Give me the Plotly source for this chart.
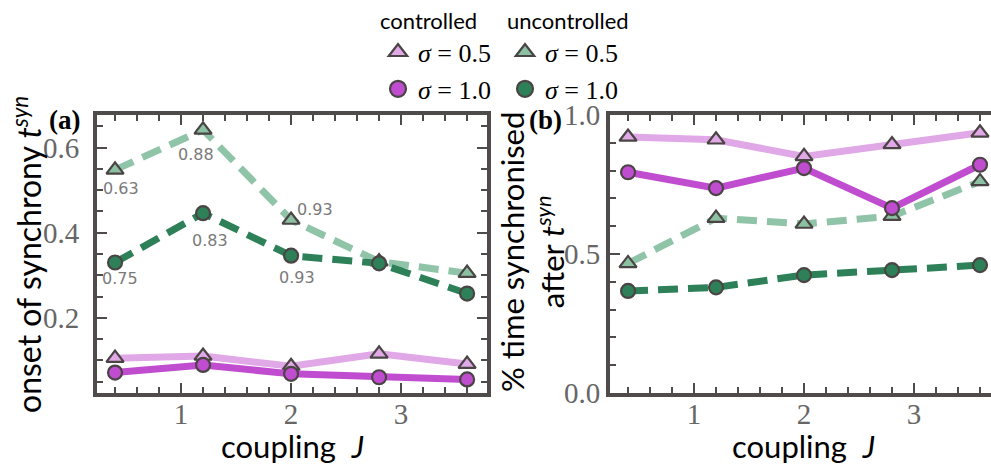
import plotly.graph_objects as go

# ---------------- data ----------------
coupling_J = [0.4, 1.2, 2.0, 2.8, 3.6]

onset_ctrl_s05 = [0.105, 0.110, 0.086, 0.115, 0.091]
onset_ctrl_s10 = [0.071, 0.089, 0.068, 0.060, 0.055]
onset_unc_s05 = [0.548, 0.642, 0.430, 0.332, 0.305]
onset_unc_s10 = [0.330, 0.446, 0.346, 0.328, 0.257]

sync_ctrl_s05 = [0.921, 0.911, 0.851, 0.894, 0.936]
sync_ctrl_s10 = [0.794, 0.737, 0.809, 0.665, 0.821]
sync_unc_s05 = [0.466, 0.629, 0.608, 0.636, 0.761]
sync_unc_s10 = [0.367, 0.380, 0.424, 0.442, 0.460]

labels_unc_s05 = ["0.63", "0.88", "0.93"]
labels_unc_s10 = ["0.75", "0.83", "0.93"]

x_ticks = [1, 2, 3]
y_ticks_a = [0.2, 0.4, 0.6]
y_ticks_b = [0.0, 0.5, 1.0]
y_ticktext_b = ["0.0", "0.5", "1.0"]

# ---------------- style ----------------
W, H = 991, 467
LIGHT_PURPLE = "#e0a8e7"
PURPLE = "#c04cd0"
LIGHT_GREEN = "#8fc4a8"
DARK_GREEN = "#2e8058"
EDGE = "#4a4444"
FRAME = "#504b4b"
SANS = "Lato, DejaVu Sans, sans-serif"
SERIF = "Liberation Serif, DejaVu Serif, serif"
TICKC = "#666666"

series = [
    ("uncontrolled σ=0.5", LIGHT_GREEN, "20px,10px", "triangle-up", "#8cc0a2", onset_unc_s05, sync_unc_s05, "legend2", "<i>σ</i> = 0.5"),
    ("uncontrolled σ=1.0", DARK_GREEN, "20px,10px", "circle", DARK_GREEN, onset_unc_s10, sync_unc_s10, "legend2", "<i>σ</i> = 1.0"),
    ("controlled σ=0.5", LIGHT_PURPLE, "solid", "triangle-up", LIGHT_PURPLE, onset_ctrl_s05, sync_ctrl_s05, "legend", "<i>σ</i> = 0.5"),
    ("controlled σ=1.0", PURPLE, "solid", "circle", PURPLE, onset_ctrl_s10, sync_ctrl_s10, "legend", "<i>σ</i> = 1.0"),
]

fig = go.Figure()

for name, col, dash, sym, fill, onset, sync, leg, lname in series:
    msize = 14 if sym == "circle" else 15
    for xa, ya, vals in (("x", "y", onset), ("x2", "y2", sync)):
        fig.add_trace(go.Scatter(
            x=coupling_J, y=vals, xaxis=xa, yaxis=ya, mode="lines+markers",
            line=dict(color=col, width=7, dash=dash),
            marker=dict(symbol=sym, size=msize, color=fill, line=dict(color=EDGE, width=2.2)),
            showlegend=False, name=name, cliponaxis=False,
        ))

# legend-only traces
legend_order = [series[2], series[3], series[0], series[1]]
for name, col, dash, sym, fill, onset, sync, leg, lname in legend_order:
    fig.add_trace(go.Scatter(
        x=[None], y=[None], mode="markers", name=lname, legend=leg,
        marker=dict(symbol=sym, size=16, color=fill, line=dict(color=EDGE, width=2.2)),
        showlegend=True,
    ))

# value annotations (panel a)
ann = []
offs_s05 = [(6, -19), (-7, -25), (24, 10)]
offs_s10 = [(5, -16), (7, -27), (6, -22)]
for labels, vals, offs in ((labels_unc_s05, onset_unc_s05, offs_s05), (labels_unc_s10, onset_unc_s10, offs_s10)):
    for i, t in enumerate(labels):
        ann.append(dict(x=coupling_J[i], y=vals[i], xref="x", yref="y", text=t, showarrow=False,
                        xshift=offs[i][0], yshift=offs[i][1], xanchor="center", yanchor="middle",
                        font=dict(family="DejaVu Sans, sans-serif", size=16, color="#7a7a7a")))

def px_x(p):
    return p / W

def px_y(p):
    return 1 - p / H

def paper_text(x, y, text, font, angle=0):
    return dict(x=px_x(x), y=px_y(y), xref="paper", yref="paper", text=text, showarrow=False,
                xanchor="center", yanchor="middle", textangle=angle, font=font)

ann += [
    paper_text(27, 255, "onset of synchrony <i>t</i><sup><i>syn</i></sup>", dict(family=SANS, size=32, color="black"), -90),
    paper_text(532, 252, "% time synchronised<br>after <i>t</i><sup><i>syn</i></sup>", dict(family=SANS, size=31, color="black"), -90),
    paper_text(292, 446, "coupling  <i>J</i>", dict(family=SANS, size=31, color="black")),
    paper_text(803, 446, "coupling  <i>J</i>", dict(family=SANS, size=31, color="black")),
    paper_text(64, 120, "<b>(a)</b>", dict(family=SERIF, size=27, color="black")),
    paper_text(545, 120, "<b>(b)</b>", dict(family=SERIF, size=27, color="black")),
]

common_axis = dict(
    showline=True, linecolor=FRAME, linewidth=4, showgrid=False, zeroline=False,
    ticks="inside", ticklen=10, tickwidth=2, tickcolor=FRAME, automargin=False,
    tickfont=dict(family=SERIF, size=29, color=TICKC),
)

fig.update_layout(
    width=W, height=H, margin=dict(l=0, r=0, t=0, b=0, autoexpand=False),
    paper_bgcolor="white", plot_bgcolor="white",
    xaxis=dict(domain=[px_x(97), px_x(487)], range=[0.236, 3.781], anchor="y",
               tickvals=x_ticks, mirror="allticks",
               minor=dict(dtick=0.2, tick0=0, ticks="inside", ticklen=6, tickwidth=2, tickcolor=FRAME),
               ticklabelstandoff=-8, **common_axis),
    yaxis=dict(domain=[px_y(393), px_y(115)], range=[0.023, 0.677], anchor="x",
               tickvals=y_ticks_a, mirror="allticks",
               minor=dict(dtick=0.05, tick0=0, ticks="inside", ticklen=6, tickwidth=2, tickcolor=FRAME),
               ticklabelstandoff=8, **common_axis),
    xaxis2=dict(domain=[px_x(610), 1.0], range=[0.236, 3.700], anchor="y2",
                tickvals=x_ticks, mirror="allticks",
                minor=dict(dtick=0.2, tick0=0, ticks="inside", ticklen=6, tickwidth=2, tickcolor=FRAME),
                ticklabelstandoff=-8, **common_axis),
    yaxis2=dict(domain=[px_y(393), px_y(115)], range=[0.0, 1.0], anchor="x2",
                tickvals=y_ticks_b, ticktext=y_ticktext_b, mirror=False,
                minor=dict(dtick=0.1, tick0=0, ticks="inside", ticklen=6, tickwidth=2, tickcolor=FRAME),
                ticklabelstandoff=0, **common_axis),
    legend=dict(x=px_x(378), y=1.0, xanchor="left", yanchor="top", orientation="v",
                bgcolor="rgba(0,0,0,0)", borderwidth=0,
                title=dict(text="controlled", font=dict(family=SANS, size=22, color="black")),
                font=dict(family=SERIF, size=26, color="black"), itemsizing="trace"),
    legend2=dict(x=px_x(505), y=1.0, xanchor="left", yanchor="top", orientation="v",
                 bgcolor="rgba(0,0,0,0)", borderwidth=0,
                 title=dict(text="uncontrolled", font=dict(family=SANS, size=22, color="black")),
                 font=dict(family=SERIF, size=26, color="black"), itemsizing="trace"),
    annotations=ann,
)

fig.write_html("out.html")
